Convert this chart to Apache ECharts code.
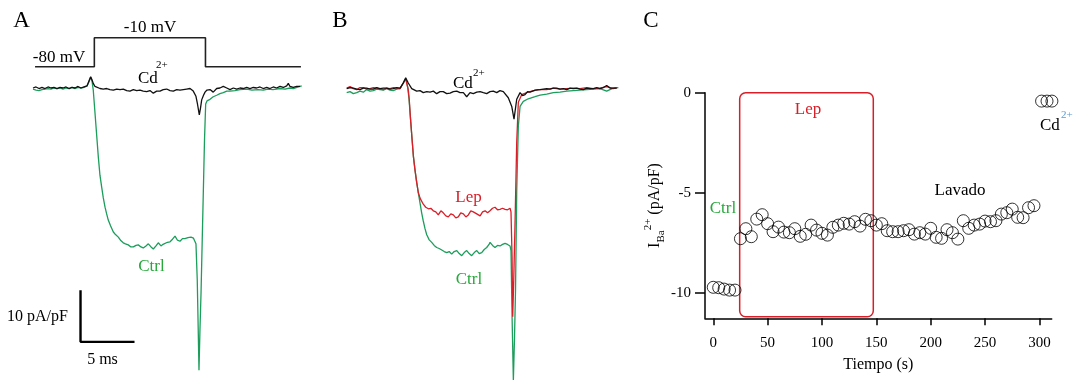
<!DOCTYPE html>
<html><head><meta charset="utf-8">
<script src="https://cdn.jsdelivr.net/npm/echarts@6/dist/echarts.min.js"></script>
<style>html,body{margin:0;padding:0;background:#fff}#c{width:1073px;height:385px}</style>
</head><body><div id="c"></div>
<script>
// ---------- Panel A: voltage protocol (ms, mV) ----------
const protoT = [0.19, 5.68, 5.68, 15.97, 15.97, 24.81];
const protoV = [-80, -80, -10, -10, -80, -80];

// ---------- Panel A: currents (ms, pA/pF) ----------
const ctrlA = [[0,-0.2],[0.28,-0.4],[0.56,-0.5],[0.83,-0.3],[1.11,-0.2],[1.39,-0.1],[1.67,-0.2],[1.94,0],[2.22,-0.1],[2.5,0],[2.78,-0.2],[3.06,0],[3.33,-0.1],[3.61,0.1],[3.89,-0.1],[4.17,0.1],[4.44,0],[4.72,0.1],[5.0,0.4],[5.19,1.2],[5.34,2.1],[5.46,1.4],[5.58,-0.4],[5.79,-6.2],[6.05,-13.4],[6.2,-16.9],[6.36,-19.2],[6.51,-21.3],[6.67,-23.1],[6.82,-24.4],[6.97,-25.6],[7.18,-26.7],[7.44,-27.9],[7.64,-28.4],[7.9,-28.9],[8.1,-29.5],[8.36,-30.0],[8.56,-30.2],[8.82,-30.4],[9.07,-30.8],[9.29,-30.8],[9.54,-30.5],[9.75,-30.4],[10.0,-30.8],[10.21,-31.0],[10.46,-30.6],[10.68,-30.2],[10.93,-30.8],[11.14,-31.2],[11.39,-30.6],[11.6,-30.0],[11.85,-30.6],[12.04,-30.3],[12.22,-30.2],[12.45,-29.9],[12.69,-29.8],[12.92,-29.3],[13.15,-28.7],[13.38,-29.5],[13.61,-29.7],[13.84,-29.2],[14.07,-29.2],[14.35,-29.0],[14.63,-28.9],[14.86,-29.1],[15.0,-29.2],[15.09,-30.2],[15.21,-37.2],[15.3,-46.9],[15.37,-54.7],[15.46,-46.9],[15.56,-39.7],[15.67,-29.5],[15.77,-20.3],[15.88,-10.1],[15.99,-3.1],[16.11,-2.5],[16.39,-2.2],[16.69,-1.7],[17.01,-1.4],[17.31,-1.1],[17.62,-0.9],[17.94,-0.6],[18.24,-0.6],[18.7,-0.5],[19.17,-0.3],[19.79,-0.2],[20.28,-0.4],[20.83,-0.3],[21.32,-0.4],[21.76,-0.2],[22.22,-0.3],[22.87,-0.1],[23.33,-0.2],[23.8,0],[24.1,-0.1],[24.44,0.1],[24.88,0.4]];
const cdA = [[0,0],[0.28,0.2],[0.56,-0.1],[0.83,0.1],[1.11,-0.1],[1.39,0.2],[1.67,0],[1.94,0.1],[2.22,-0.1],[2.5,0.1],[2.78,0],[3.06,0.2],[3.33,-0.1],[3.61,0.1],[3.89,0],[4.17,0.3],[4.44,0],[4.72,0.2],[5.0,0.4],[5.19,1.4],[5.34,2.2],[5.46,1.6],[5.58,0.9],[5.74,0.3],[5.9,0.1],[6.2,-0.1],[6.51,-0.2],[6.82,-0.1],[7.13,-0.3],[7.44,-0.4],[7.75,-0.2],[8.06,-0.3],[8.36,-0.2],[8.68,-0.5],[8.98,-0.6],[9.29,-0.3],[9.6,-0.5],[9.91,-0.4],[10.21,-0.6],[10.53,-0.7],[10.83,-0.5],[11.14,-1.0],[11.45,-0.6],[11.76,-0.6],[12.06,-0.3],[12.38,-0.2],[12.69,-0.5],[12.99,-0.6],[13.31,-0.3],[13.61,-0.4],[13.92,-0.3],[14.23,-0.2],[14.54,-0.1],[14.84,-0.6],[15.09,-1.6],[15.23,-3.1],[15.4,-5.2],[15.51,-3.9],[15.62,-2.3],[15.79,-1.4],[15.93,-0.8],[16.11,-0.4],[16.39,-0.3],[16.69,-0.8],[17.01,-0.1],[17.31,0],[17.62,0.3],[17.94,0],[18.24,-0.3],[18.55,0],[18.86,-0.2],[19.17,0],[19.47,-0.1],[19.79,0.1],[20.09,-0.1],[20.4,0.1],[20.71,0],[21.02,0.2],[21.32,-0.1],[21.64,0.1],[21.94,-0.1],[22.25,0.2],[22.56,0],[22.87,0.3],[23.18,0.1],[23.49,0.4],[23.64,0.9],[23.8,0.3],[24.1,0.1],[24.42,0.3],[24.72,0.3]];
// scale bar: origin (ms, pA/pF) and sizes
const scaleBarOrigin = [4.4, -49.2];
const scaleBarMs = 5;
const scaleBarPA = 10;

// ---------- Panel B: currents (ms, pA/pF) ----------
const ctrlB = [[0,-0.6],[0.31,-0.4],[0.61,-0.8],[0.93,-0.6],[1.23,-0.3],[1.54,-0.5],[1.85,0],[2.16,-0.3],[2.46,-0.2],[2.78,0.1],[3.08,0],[3.39,-0.1],[3.7,0.2],[4.01,-0.1],[4.31,-0.2],[4.63,0.1],[4.94,0.2],[5.31,1.6],[5.49,2.1],[5.65,0.4],[5.77,-1.9],[5.91,-5.8],[6.05,-9.7],[6.17,-13.0],[6.33,-15.9],[6.48,-18.2],[6.63,-20.3],[6.79,-22.3],[6.94,-24.2],[7.09,-25.8],[7.25,-27.3],[7.41,-28.5],[7.64,-29.5],[7.87,-30.0],[8.1,-30.6],[8.33,-31.0],[8.56,-31.2],[8.8,-31.5],[9.03,-31.8],[9.26,-32.0],[9.49,-31.8],[9.72,-32.3],[9.95,-31.8],[10.19,-31.6],[10.42,-32.2],[10.65,-32.6],[10.88,-32.0],[11.11,-31.6],[11.34,-32.2],[11.57,-32.6],[11.81,-32.0],[12.04,-31.6],[12.27,-32.2],[12.5,-32.0],[12.73,-31.4],[12.96,-31.0],[13.18,-30.4],[13.27,-30.0],[13.5,-30.6],[13.73,-31.0],[13.96,-30.6],[14.19,-30.7],[14.43,-30.4],[14.66,-30.2],[14.89,-30.4],[15.12,-30.7],[15.21,-31.6],[15.31,-44.6],[15.43,-57.0],[15.54,-48.4],[15.63,-39.3],[15.74,-20.0],[15.89,-7.2],[16.05,-3.3],[16.35,-2.3],[16.81,-1.8],[17.44,-1.4],[17.9,-1.1],[18.52,-0.9],[19.13,-0.6],[19.75,-0.5],[20.37,-0.3],[20.98,-0.2],[21.6,-0.1],[22.22,0],[22.83,0.1],[23.45,0.2],[24.07,-0.3],[24.67,0.3],[25.15,0.4]];
const lepB = [[0,0.3],[0.31,0.6],[0.61,0.2],[0.93,0],[1.23,0.4],[1.54,0.4],[1.85,0.1],[2.16,0.2],[2.46,0.4],[2.78,0.3],[3.08,0.1],[3.39,0],[3.7,0.3],[4.01,0.2],[4.31,0.4],[4.63,0.3],[4.94,0.2],[5.24,1.3],[5.46,2.1],[5.7,0],[5.79,-1.9],[5.91,-5.8],[6.05,-9.7],[6.17,-13.0],[6.33,-15.9],[6.48,-18.2],[6.63,-20.2],[6.79,-21.3],[7.09,-22.5],[7.32,-23.1],[7.56,-23.4],[7.79,-23.3],[8.02,-23.8],[8.25,-24.0],[8.48,-24.6],[8.72,-23.8],[8.94,-24.2],[9.18,-24.8],[9.41,-25.0],[9.64,-24.4],[9.87,-24.6],[10.1,-25.2],[10.33,-25.0],[10.56,-24.2],[10.8,-24.4],[11.03,-25.0],[11.26,-24.6],[11.49,-23.8],[11.72,-24.0],[12.04,-24.4],[12.35,-24.8],[12.58,-24.0],[12.81,-23.8],[13.04,-24.2],[13.27,-23.8],[13.5,-23.3],[13.73,-23.1],[13.96,-23.6],[14.19,-23.5],[14.43,-23.3],[14.66,-23.5],[14.89,-23.6],[15.12,-23.3],[15.21,-24.0],[15.31,-32.9],[15.37,-44.6],[15.46,-37.8],[15.58,-26.6],[15.74,-10.3],[15.89,-2.5],[16.2,-1.0],[16.67,-0.6],[17.13,-0.3],[17.74,0],[18.52,0],[19.13,0.3],[19.75,0.1],[20.37,0.2],[20.98,0.3],[21.6,0.2],[22.22,0.4],[22.83,0.2],[23.45,0.3],[24.07,0.6],[24.67,0.2],[25.0,0.4]];
const cdB = [[0,0.2],[0.31,0.4],[0.61,0.3],[0.93,0.1],[1.23,0],[1.54,0.3],[1.85,0.3],[2.16,0.1],[2.46,0.1],[2.78,0.4],[3.08,0.2],[3.39,0.3],[3.7,0.3],[4.01,0.1],[4.31,0.2],[4.63,0.4],[4.94,0.3],[5.24,1.3],[5.46,2.3],[5.7,1.3],[6.02,0.2],[6.48,-0.3],[6.79,-0.2],[7.09,-0.6],[7.41,-0.4],[7.72,-0.5],[8.02,-0.3],[8.33,-0.8],[8.64,-0.4],[8.94,-0.4],[9.26,-0.8],[9.57,-0.7],[9.87,-0.4],[10.19,-0.3],[10.49,-0.6],[10.8,-0.6],[11.11,-1.4],[11.42,-0.6],[11.72,-0.8],[12.04,-0.5],[12.35,-0.4],[12.65,-0.6],[12.96,-0.8],[13.27,-0.4],[13.57,-0.3],[13.89,-0.6],[14.19,-0.2],[14.5,-0.4],[14.66,-0.3],[14.96,-1.6],[15.28,-3.3],[15.49,-5.8],[15.74,-1.9],[16.05,-0.6],[16.28,-1.2],[16.51,-1.0],[16.74,-0.4],[16.97,-0.5],[17.44,-0.1],[17.9,0],[18.2,0.1],[18.52,0.2],[18.82,0.1],[19.13,0.3],[19.44,0.3],[19.75,0.1],[20.06,0.2],[20.37,0],[20.68,0.3],[20.98,0.2],[21.3,0.3],[21.6,0.1],[21.91,0],[22.22,0.3],[22.53,0.2],[22.83,0.2],[23.15,0.4],[23.45,0.2],[23.76,0.4],[24.07,0.8],[24.38,0.3],[24.54,0.2],[25.0,0.3]];

// ---------- Panel C: time course (s, pA/pF) ----------
const ctrlTime = [0, 5, 10, 15, 20];
const ctrlVal = [-9.73, -9.75, -9.82, -9.87, -9.87];
const lepTime = [25,30,35,40,45,50,55,60,65,70,75,80,85,90,95,100,105,110,115,120,125,130,135,140,145,150,155,160,165,170,175,180,185,190,195,200,205,210,215,220,225,230,235,240,245,250,255,260,265,270,275,280,285,290,295];
const lepVal = [-7.3,-6.8,-7.2,-6.32,-6.1,-6.55,-6.95,-6.72,-6.97,-7.0,-6.8,-7.18,-7.08,-6.62,-6.87,-7.03,-7.12,-6.73,-6.62,-6.53,-6.57,-6.45,-6.67,-6.33,-6.4,-6.62,-6.55,-6.9,-6.95,-6.95,-6.9,-6.85,-7.07,-7.0,-7.07,-6.78,-7.23,-7.28,-6.85,-7.0,-7.32,-6.4,-6.78,-6.62,-6.57,-6.42,-6.45,-6.4,-6.07,-6.0,-5.82,-6.23,-6.25,-5.75,-5.65];
const cdTime = [302, 307, 311.5];
const cdVal = [-0.42, -0.42, -0.42];
const lepWindow = [24.3, 147.2];   // s
const lepWindowI = [-11.2, 0];     // pA/pF
const xTicksC = [0, 50, 100, 150, 200, 250, 300];
const yTicksC = [-10, -5, 0];

const FONT = '"Liberation Serif", "Times New Roman", serif';
const GREEN = '#1b9d5b', GREEN_T = '#26a83a', RED = '#da1e28', BLACK = '#111';

const zip = (a, b) => a.map((v, i) => [v, b[i]]);
const hidden = (gi, min, max) => ({gridIndex: gi, type: 'value', min, max, show: false});
const trace = (data, color, xi, w) => ({type: 'line', data, xAxisIndex: xi, yAxisIndex: xi, symbol: 'none',
  lineStyle: {color, width: w || 1.3}, silent: true, animation: false});
const sb = scaleBarOrigin;
const scaleBar = [[sb[0], sb[1] + scaleBarPA], [sb[0], sb[1]], [sb[0] + scaleBarMs, sb[1]]];

function txt(x, y, s, size, color, align) {
  return {type: 'text', x, y, silent: true,
    style: {text: s, font: size + 'px ' + FONT, fill: color || '#000',
      textAlign: align || 'center', align: align || 'center', textVerticalAlign: 'middle', verticalAlign: 'middle'}};
}

const circle = {color: 'rgba(0,0,0,0)', borderColor: '#000', borderWidth: 1};
const chart = echarts.init(document.getElementById('c'), null, {renderer: 'canvas'});
chart.setOption({
  animation: false,
  backgroundColor: '#fff',
  grid: [
    {left: 33, top: 33.56, width: 268.9, height: 37.29},
    {left: 33, top: 57.04, width: 268.9, height: 319.92},
    {left: 346.7, top: 59.04, width: 272.2, height: 330.24},
    {left: 705, top: 92.7, width: 346.7, height: 225.6}
  ],
  xAxis: [
    hidden(0, 0, 24.9), hidden(1, 0, 24.9), hidden(2, 0, 25.2),
    {gridIndex: 3, type: 'value', min: -7.6, max: 311.3,
      axisLine: {show: true, onZero: false, lineStyle: {color: '#000', width: 1.5}},
      axisTick: {show: true, length: 7, lineStyle: {color: '#000', width: 1.5}, customValues: xTicksC},
      axisLabel: {customValues: xTicksC, color: '#000', fontFamily: FONT, fontSize: 15, margin: 17},
      splitLine: {show: false},
      name: 'Tiempo (s)', nameLocation: 'middle', nameGap: 38,
      nameTextStyle: {color: '#000', fontFamily: FONT, fontSize: 16}}
  ],
  yAxis: [
    hidden(0, -90, 0), hidden(1, -56, 6), hidden(2, -58, 6),
    {gridIndex: 3, type: 'value', min: -11.28, max: 0,
      axisLine: {show: true, onZero: false, lineStyle: {color: '#000', width: 1.5}},
      axisTick: {show: true, length: 10, lineStyle: {color: '#000', width: 1.5}, customValues: yTicksC},
      axisLabel: {customValues: yTicksC, color: '#000', fontFamily: FONT, fontSize: 15, margin: 14},
      splitLine: {show: false},
      name: '{i|I}{sub|Ba}{sup|2+}{n| (pA/pF)}', nameLocation: 'middle', nameRotate: 90, nameGap: 38,
      nameTextStyle: {color: '#000', fontFamily: FONT, fontSize: 16,
        rich: {
          i: {fontFamily: FONT, fontSize: 16, lineHeight: 24, color: '#000'},
          sub: {fontFamily: FONT, fontSize: 11, lineHeight: 11, verticalAlign: 'bottom', color: '#000'},
          sup: {fontFamily: FONT, fontSize: 11, lineHeight: 11, verticalAlign: 'top', color: '#000'},
          n: {fontFamily: FONT, fontSize: 16, lineHeight: 24, color: '#000'}
        }}}
  ],
  series: [
    trace(zip(protoT, protoV), '#222', 0, 1.6),
    trace(ctrlA, GREEN, 1),
    trace(cdA, BLACK, 1),
    trace(scaleBar, '#000', 1, 2.4),
    trace(ctrlB, GREEN, 2),
    trace(lepB, RED, 2),
    trace(cdB, BLACK, 2),
    {type: 'custom', xAxisIndex: 3, yAxisIndex: 3, silent: true, clip: false,
      data: [[lepWindow[0], lepWindow[1]]],
      renderItem: (params, api) => {
        const p0 = api.coord([api.value(0), lepWindowI[1]]);
        const p1 = api.coord([api.value(1), lepWindowI[0]]);
        return {type: 'rect', shape: {x: p0[0], y: p0[1], width: p1[0] - p0[0], height: p1[1] - p0[1], r: 6},
          style: {fill: 'none', stroke: RED, lineWidth: 1.5}};
      }},
    {type: 'scatter', xAxisIndex: 3, yAxisIndex: 3, data: zip(ctrlTime, ctrlVal), symbol: 'circle', symbolSize: 12, itemStyle: circle, silent: true, clip: false},
    {type: 'scatter', xAxisIndex: 3, yAxisIndex: 3, data: zip(lepTime, lepVal), symbol: 'circle', symbolSize: 12, itemStyle: circle, silent: true, clip: false},
    {type: 'scatter', xAxisIndex: 3, yAxisIndex: 3, data: zip(cdTime, cdVal), symbol: 'circle', symbolSize: 12, itemStyle: circle, silent: true, clip: false}
  ],
  graphic: [
    txt(21.5, 20.5, 'A', 23), txt(340, 20.5, 'B', 23), txt(651, 21, 'C', 23),
    txt(59, 57.5, '-80 mV', 17), txt(150, 27.5, '-10 mV', 17),
    txt(138, 79, 'Cd', 17, '#000', 'left'), txt(156, 65, '2+', 11, '#000', 'left'),
    txt(151.5, 267, 'Ctrl', 17, GREEN_T),
    txt(37.5, 316.5, '10 pA/pF', 16), txt(102.5, 359.5, '5 ms', 16),
    txt(453, 84, 'Cd', 17, '#000', 'left'), txt(473, 73, '2+', 11, '#000', 'left'),
    txt(468.5, 198, 'Lep', 17, RED), txt(469, 280, 'Ctrl', 17, GREEN_T),
    txt(808, 109.5, 'Lep', 17, RED), txt(723, 209, 'Ctrl', 17, GREEN_T),
    txt(960, 191, 'Lavado', 17),
    txt(1040, 126, 'Cd', 17, '#000', 'left'), txt(1061, 115, '2+', 11, '#5b9bd5', 'left')
  ]
});
</script>
</body></html>
